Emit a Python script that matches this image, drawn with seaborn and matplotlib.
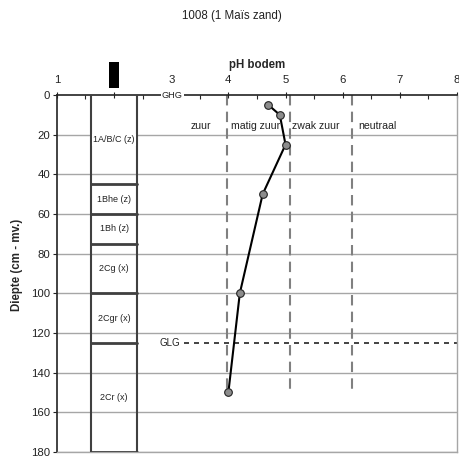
import matplotlib
matplotlib.use("Agg")
import matplotlib.pyplot as plt
import matplotlib.transforms as mtransforms
from matplotlib.patches import Rectangle
import seaborn as sns
import pandas as pd

# ---- data ----
depth = [5, 10, 25, 50, 100, 150]
ph = [4.7, 4.9, 5.0, 4.6, 4.2, 4.0]

horizon_tops = [0, 45, 60, 75, 100, 125]
horizon_bottoms = [45, 60, 75, 100, 125, 180]
horizon_names = ["1A/B/C (z)", "1Bhe (z)", "1Bh (z)", "2Cg (x)", "2Cgr (x)", "2Cr (x)"]

class_bounds = [3.97, 5.07, 6.17]
class_names = ["zuur", "matig zuur", "zwak zuur", "neutraal"]
class_label_x = [3.52, 4.47, 5.53, 6.61]

ghg_depth = 0
glg_depth = 125

x_ticks = [1, 2, 3, 4, 5, 6, 7, 8]
y_ticks = [0, 20, 40, 60, 80, 100, 120, 140, 160, 180]

# ---- style ----
sns.set_style("white")
plt.rcParams["font.family"] = ["Liberation Sans", "DejaVu Sans"]

fig = plt.figure(figsize=(4.59, 4.57), dpi=100)
ax = fig.add_axes([0.124, 0.011, 0.8716, 0.781])

ax.set_xlim(1, 8)
ax.set_ylim(180, 0)

# grid lines
for yv in y_ticks[1:]:
    ax.axhline(yv, color="#a6a6a6", lw=1.0, zorder=1)

# soil column
col_l, col_r = 1.6, 2.4
col_mid = (col_l + col_r) / 2
for top, bot, name in zip(horizon_tops, horizon_bottoms, horizon_names):
    ax.text(col_mid, (top + bot) / 2, name, ha="center", va="center", fontsize=6.5,
            color="#222222", zorder=4,
            bbox=dict(facecolor="white", edgecolor="none", pad=1.0))
for top in horizon_tops[1:]:
    ax.plot([col_l, col_r], [top, top], color="#404040", lw=2, zorder=3)
ax.plot([col_l, col_r], [horizon_bottoms[-1], horizon_bottoms[-1]], color="#404040", lw=2, zorder=3)
ax.plot([col_l, col_l], [0, 180], color="#404040", lw=1.5, zorder=3)
ax.plot([col_r, col_r], [0, 180], color="#404040", lw=1.5, zorder=3)

# class boundaries
for xb in class_bounds:
    ax.plot([xb, xb], [0, 148], color="#808080", lw=1.5, dashes=(5, 3), zorder=2)
for xl, nm in zip(class_label_x, class_names):
    ax.text(xl, 15.5, nm, ha="center", va="center", fontsize=7.6, color="#222222", zorder=2)

# GHG / GLG
ax.text(3.02, ghg_depth, "GHG", ha="center", va="center", fontsize=6.6, color="#222222",
        zorder=6, clip_on=False,
        bbox=dict(facecolor="white", edgecolor="none", pad=0.5))
ax.plot([3.22, 8], [glg_depth, glg_depth], color="#222222", lw=1.2, dashes=(3, 3), zorder=2)
ax.text(3.16, glg_depth, "GLG", ha="right", va="center", fontsize=7, color="#222222", zorder=3)

# pH profile
df = pd.DataFrame({"pH": ph, "depth": depth})
sns.lineplot(data=df, x="pH", y="depth", sort=False, estimator=None, color="black",
             lw=1.5, marker="o", markersize=5.5, markerfacecolor="#8c8c8c",
             markeredgecolor="#222222", markeredgewidth=0.8, ax=ax, zorder=5)

# axes styling
ax.xaxis.tick_top()
ax.xaxis.set_label_position("top")
ax.set_xticks(x_ticks)
ax.set_xticks([v + 0.5 for v in x_ticks[:-1]], minor=True)
ax.set_yticks(y_ticks)
ax.tick_params(axis="x", which="major", direction="inout", length=5, width=0.8,
               labelsize=8.2, pad=5, colors="#222222")
ax.tick_params(axis="x", which="minor", direction="in", length=3, width=0.8)
ax.tick_params(axis="y", which="major", direction="out", length=3, width=0.8,
               labelsize=8.2, pad=2, colors="#222222", left=True)
ax.set_xlabel("pH bodem", fontsize=8.3, fontweight="bold", labelpad=5)
ax.set_ylabel("Diepte (cm - mv.)", fontsize=8.3, fontweight="bold")
ax.yaxis.set_label_coords(-0.085, 0.524)

for side in ["top", "left"]:
    ax.spines[side].set_color("#222222")
    ax.spines[side].set_linewidth(1.2)
for side in ["right", "bottom"]:
    ax.spines[side].set_color("#a6a6a6")
    ax.spines[side].set_linewidth(1.0)

# black box over the "2" tick label
trans = mtransforms.blended_transform_factory(ax.transData, ax.transAxes)
ax.add_patch(Rectangle((1.91, 1.02), 0.18, 0.073, transform=trans, facecolor="black",
                       edgecolor="none", clip_on=False, zorder=10))

fig.text(0.505, 0.965, "1008 (1 Maïs zand)", ha="center", va="center", fontsize=8.3,
         color="#222222")

fig.savefig("out.png", dpi=100)
